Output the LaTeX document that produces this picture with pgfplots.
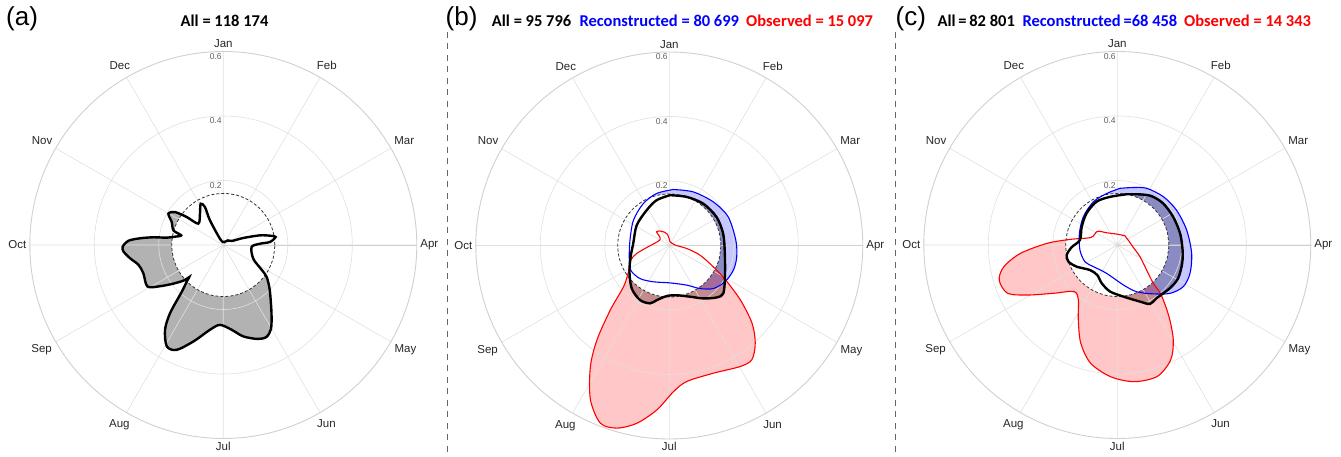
\documentclass[border=0pt]{standalone}
\usepackage{pgfplots}
\pgfplotsset{compat=1.18}
\usepackage{pgfplotstable}
\usepgfplotslibrary{polar}
\usepackage{fontspec}
\setmainfont{Liberation Sans}
\newfontfamily\carlito{Carlito}

\definecolor{gridc}{RGB}{224,224,224}
\definecolor{outerc}{RGB}{208,208,208}
\definecolor{ytl}{RGB}{95,95,95}

% angle t in degrees (math convention: Jan at 90, Apr at 0), r = share
\pgfplotstableread{
t r
0 0.16
15 0.16
30 0.16
45 0.16
60 0.16
75 0.16
90 0.16
105 0.16
120 0.16
135 0.16
150 0.16
165 0.16
180 0.16
195 0.16
210 0.16
225 0.16
240 0.16
255 0.16
270 0.16
285 0.16
300 0.16
315 0.16
330 0.16
345 0.16
360 0.16
}\refcirc

\pgfplotstableread{
t r
80 0.008
45 0.020
25 0.030
19.3 0.066
14.8 0.117
11 0.150
8.7 0.164
3.7 0.145
2 0.114
-4 0.088
-24.5 0.102
-32.8 0.141
-36.4 0.167
-44.2 0.201
-54.9 0.260
-60.5 0.300
-65 0.315
-70 0.310
-77.7 0.290
-84.4 0.264
-92.4 0.248
-98.9 0.266
-107.2 0.313
-114 0.356
-119.1 0.360
-124.5 0.319
-128 0.268
-131.6 0.194
-135.5 0.156
-136.7 0.145
-138 0.164
-142.3 0.196
-146.9 0.234
-151.3 0.268
-160.5 0.263
-166.8 0.270
-171.9 0.292
-176.2 0.310
-179.1 0.312
-182.6 0.294
-184.6 0.259
-186.3 0.218
-187.4 0.177
-190 0.150
-192.9 0.134
-196.3 0.161
-204 0.175
-209.7 0.196
-214.3 0.181
-217.4 0.143
-220.5 0.102
-233.3 0.121
-241.3 0.146
-244.2 0.131
-241.6 0.087
-242 0.022
-280 0.008
}\aK

\pgfplotstableread{
t r
89.2 0.156
70.4 0.160
51 0.167
31.2 0.171
12.5 0.171
-8.2 0.174
-29.4 0.198
-41.6 0.224
-47.7 0.218
-57.3 0.195
-68.1 0.171
-81.6 0.156
-93 0.157
-103 0.174
-108.4 0.189
-118.2 0.192
-131.2 0.177
-146.6 0.148
-163.7 0.125
-183.2 0.112
-211.9 0.119
-237.3 0.130
-254.4 0.146
-270.8 0.156
}\bK

\pgfplotstableread{
t r
86 0.174
66 0.182
44.8 0.192
26 0.203
4.6 0.207
-9.6 0.212
-21 0.213
-33.1 0.206
-44.3 0.191
-54.5 0.164
-66.4 0.134
-89 0.116
-113.8 0.123
-131.6 0.137
-147.5 0.142
-164.2 0.129
-187.7 0.123
-215.1 0.136
-238.2 0.153
-256.3 0.166
-274 0.174
}\bB

\pgfplotstableread{
t r
80 0.012
4 0.018
-9.8 0.055
-17.5 0.100
-25.9 0.152
-31 0.200
-37.4 0.277
-43.2 0.352
-48.6 0.403
-54.1 0.437
-59.6 0.435
-70.8 0.419
-82.6 0.425
-88.3 0.453
-94.3 0.511
-100.3 0.560
-106 0.589
-111.2 0.591
-117.1 0.537
-123.1 0.448
-127.5 0.368
-132.5 0.270
-138.1 0.190
-147.4 0.150
-159.2 0.128
-166.2 0.104
-175 0.070
-212.7 0.034
-227.2 0.058
-241.9 0.050
-260 0.036
-280 0.012
}\bR

\pgfplotstableread{
t r
79.6 0.160
65.9 0.172
55 0.185
42.2 0.192
26.8 0.194
10.5 0.198
-4.4 0.203
-15.8 0.209
-28.7 0.215
-39.4 0.211
-53.6 0.205
-61 0.209
-68.2 0.189
-83.4 0.161
-98.9 0.146
-112.2 0.128
-123.7 0.112
-137.6 0.115
-152 0.143
-161.2 0.160
-168.8 0.160
-177.1 0.142
-187.6 0.117
-207.2 0.124
-225.9 0.137
-244.5 0.149
-261.4 0.151
-280.4 0.160
}\cK

\pgfplotstableread{
t r
87.3 0.176
74.5 0.185
62.6 0.198
46.4 0.207
30.5 0.213
12.2 0.220
-6.4 0.232
-21.3 0.242
-32.3 0.242
-42.5 0.222
-53.7 0.188
-67.5 0.157
-81.5 0.125
-110.6 0.094
-137.9 0.100
-152.7 0.113
-172.4 0.117
-197.1 0.123
-219.8 0.137
-241 0.153
-258.3 0.163
-272.7 0.176
}\cB

\pgfplotstableread{
t r
50.6 0.037
24.4 0.037
-8.3 0.050
-27.2 0.079
-40.4 0.119
-46.8 0.163
-48.6 0.205
-54.2 0.274
-59.5 0.342
-65.1 0.393
-73.1 0.426
-83 0.427
-92.9 0.409
-102.7 0.376
-110.4 0.325
-117.5 0.262
-125.3 0.209
-132.9 0.197
-142.7 0.247
-150.9 0.319
-156.3 0.372
-163.5 0.382
-169.2 0.358
-175.1 0.301
-181.4 0.217
-186.9 0.146
-196 0.085
-214.3 0.075
-229.1 0.050
-266.5 0.034
-309.4 0.037
}\cR

\pgfplotsset{
  polarbase/.style={
    width=387pt, height=387pt, scale only axis,
    anchor=center,
    xmin=0, xmax=360,
    ymin=0, ymax=0.6,
    clip=false,
  },
  polarfront/.style={
    polarbase,
    xtick={0,30,...,330},
    xticklabels={Apr,Mar,Feb,Jan,Dec,Nov,Oct,Sep,Aug,Jul,Jun,May},
    ytick={0.2,0.4},
    yticklabels={},
    grid=major,
    major grid style={draw=gridc, line width=0.6pt},
    axis line style={draw=outerc, line width=0.9pt},
    major tick length=0pt,
    xticklabel style={font=\fontsize{11.5}{13}\selectfont, text=black!85},
  },
  polarback/.style={
    polarbase,
    hide axis,
  },
  fillK/.style={draw=none, fill=black, fill opacity=0.3, smooth},
  fillB/.style={draw=none, fill=blue, fill opacity=0.22, smooth},
  fillR/.style={draw=none, fill=red, fill opacity=0.22, smooth},
  disk/.style={draw=none, fill=white, smooth},
  dcirc/.style={draw=black!80, line width=0.8pt, dash pattern=on 3pt off 2pt, smooth},
  lineK/.style={draw=black, line width=2.4pt, smooth},
  lineB/.style={draw=blue, line width=1.1pt, smooth},
  lineR/.style={draw=red, line width=1.1pt, smooth},
}

\newcommand{\ylabs}{%
  \node[font=\fontsize{8.5}{9}\selectfont, text=ytl, anchor=north east, inner sep=0pt, xshift=-1.5pt, yshift=-1.8pt] at (axis cs:90,0.2) {0.2};
  \node[font=\fontsize{8.5}{9}\selectfont, text=ytl, anchor=north east, inner sep=0pt, xshift=-1.5pt, yshift=-1.8pt] at (axis cs:90,0.4) {0.4};
  \node[font=\fontsize{8.5}{9}\selectfont, text=ytl, anchor=north east, inner sep=0pt, xshift=-1.5pt, yshift=-1.8pt] at (axis cs:90,0.6) {0.6};
}

\begin{document}
\begin{tikzpicture}[x=1pt,y=1pt]
\path[use as bounding box] (0,0) rectangle (1341,457);

% ---------- (a)
\begin{polaraxis}[polarback, at={(223.3pt,212pt)}]
  \addplot[fillK] table[x=t,y=r] {\aK};
  \addplot[disk] table[x=t,y=r] {\refcirc};
\end{polaraxis}
\begin{polaraxis}[polarfront, at={(223.3pt,212pt)}]
  \addplot[dcirc] table[x=t,y=r] {\refcirc};
  \addplot[lineK] table[x=t,y=r] {\aK};
  \ylabs
\end{polaraxis}

% ---------- (b)
\begin{polaraxis}[polarback, at={(669.3pt,211.5pt)}]
  \addplot[fillK] table[x=t,y=r] {\bK};
  \addplot[fillB] table[x=t,y=r] {\bB};
  \addplot[fillR] table[x=t,y=r] {\bR};
  \addplot[disk] table[x=t,y=r] {\refcirc};
\end{polaraxis}
\begin{polaraxis}[polarfront, at={(669.3pt,211.5pt)}]
  \addplot[dcirc] table[x=t,y=r] {\refcirc};
  \addplot[lineR] table[x=t,y=r] {\bR};
  \addplot[lineB] table[x=t,y=r] {\bB};
  \addplot[lineK] table[x=t,y=r] {\bK};
  \ylabs
\end{polaraxis}

% ---------- (c)
\begin{polaraxis}[polarback, at={(1117.3pt,212pt)}]
  \addplot[fillK] table[x=t,y=r] {\cK};
  \addplot[fillB] table[x=t,y=r] {\cB};
  \addplot[fillR] table[x=t,y=r] {\cR};
  \addplot[disk] table[x=t,y=r] {\refcirc};
\end{polaraxis}
\begin{polaraxis}[polarfront, at={(1117.3pt,212pt)}]
  \addplot[dcirc] table[x=t,y=r] {\refcirc};
  \addplot[lineR] table[x=t,y=r] {\cR};
  \addplot[lineB] table[x=t,y=r] {\cB};
  \addplot[lineK] table[x=t,y=r] {\cK};
  \ylabs
\end{polaraxis}

% separators
\draw[draw=black!60, line width=0.9pt, dash pattern=on 6pt off 5.5pt] (447.3,425) -- (447.3,0);
\draw[draw=black!60, line width=0.9pt, dash pattern=on 6pt off 5.5pt] (895.5,425) -- (895.5,0);

% panel letters
\node[anchor=west, inner sep=0pt, font=\fontsize{26}{28}\selectfont] at (6,438.5) {(a)};
\node[anchor=west, inner sep=0pt, font=\fontsize{26}{28}\selectfont] at (445.5,438.5) {(b)};
\node[anchor=west, inner sep=0pt, font=\fontsize{26}{28}\selectfont] at (895.5,438.5) {(c)};

% titles
\node[anchor=base, inner sep=0pt, font=\carlito\bfseries\fontsize{16.5}{18}\selectfont] at (224.5,430) {All = 118 174};

\node[anchor=base west, inner sep=0pt, font=\carlito\bfseries\fontsize{16.5}{18}\selectfont] at (491.7,430) {All = 95 796};
\node[anchor=base west, inner sep=0pt, text=blue, font=\carlito\bfseries\fontsize{16.5}{18}\selectfont] at (579.3,430) {Reconstructed = 80 699};
\node[anchor=base west, inner sep=0pt, text=red, font=\carlito\bfseries\fontsize{16.5}{18}\selectfont] at (746,430) {Observed = 15 097};

\node[anchor=base west, inner sep=0pt, font=\carlito\bfseries\fontsize{16.5}{18}\selectfont] at (937.3,430) {All\,=\,82 801};
\node[anchor=base west, inner sep=0pt, text=blue, font=\carlito\bfseries\fontsize{16.5}{18}\selectfont] at (1022.3,430) {Reconstructed\,=68 458};
\node[anchor=base west, inner sep=0pt, text=red, font=\carlito\bfseries\fontsize{16.5}{18}\selectfont] at (1184,430) {Observed = 14 343};
\end{tikzpicture}
\end{document}
